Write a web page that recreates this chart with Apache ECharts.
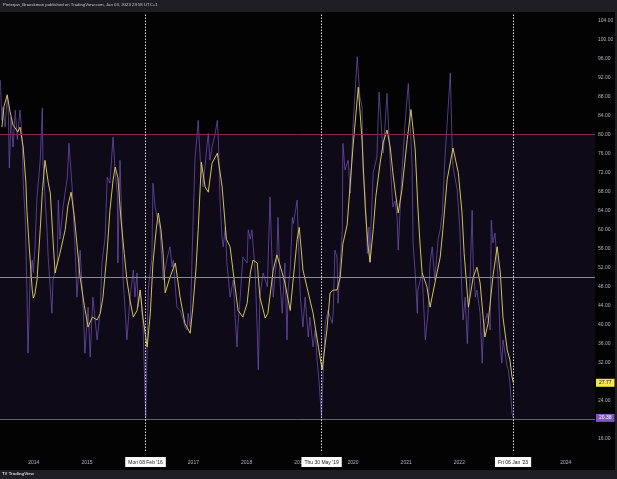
<!DOCTYPE html>
<html><head><meta charset="utf-8">
<script src="https://cdn.jsdelivr.net/npm/echarts@6/dist/echarts.min.js"></script>
<style>html,body{margin:0;padding:0;background:#030303;}#c{width:617px;height:479px;}</style>
</head><body><div id="c"></div>
<script>
// Weekly RSI-like oscillator (purple) and its moving average (yellow), x in decimal years
const purpleYears = [2013.37,2013.40,2013.42,2013.46,2013.50,2013.52,2013.54,2013.57,2013.61,2013.65,2013.69,2013.74,2013.78,2013.80,2013.84,2013.87,2013.89,2013.93,2013.97,2013.99,
2014.02,2014.06,2014.12,2014.16,2014.17,2014.25,2014.27,2014.34,2014.36,2014.44,2014.46,2014.49,2014.55,2014.63,2014.66,2014.72,2014.78,2014.81,2014.87,2014.93,2014.96,
2015.02,2015.06,2015.11,2015.19,2015.25,2015.28,2015.34,2015.38,2015.43,2015.49,2015.53,2015.57,2015.58,2015.62,2015.66,2015.68,2015.72,2015.75,2015.81,2015.87,2015.90,2015.94,2015.96,
2016.00,2016.04,2016.05,2016.104,2016.15,2016.22,2016.24,2016.28,2016.32,2016.37,2016.43,2016.51,2016.56,2016.60,2016.62,2016.69,2016.75,2016.81,2016.84,2016.88,2016.90,2016.94,2016.98,
2017.03,2017.07,2017.09,2017.13,2017.18,2017.26,2017.28,2017.31,2017.35,2017.41,2017.45,2017.47,2017.50,2017.54,2017.56,2017.60,2017.63,2017.69,2017.75,2017.78,2017.82,2017.84,2017.88,2017.93,
2018.01,2018.03,2018.07,2018.10,2018.16,2018.20,2018.22,2018.25,2018.31,2018.39,2018.44,2018.50,2018.54,2018.57,2018.59,2018.63,2018.67,2018.72,2018.76,2018.78,2018.82,2018.86,2018.88,2018.95,
2019.01,2019.06,2019.10,2019.16,2019.19,2019.25,2019.29,2019.33,2019.36,2019.408,2019.44,2019.48,2019.53,2019.61,2019.63,2019.66,2019.70,2019.72,2019.76,2019.80,2019.81,2019.85,2019.91,2019.95,
2020.00,2020.08,2020.10,2020.13,2020.17,2020.19,2020.23,2020.27,2020.30,2020.32,2020.34,2020.38,2020.45,2020.49,2020.55,2020.57,2020.64,2020.70,2020.75,2020.79,2020.83,2020.85,2020.92,2020.98,
2021.04,2021.11,2021.13,2021.17,2021.21,2021.22,2021.30,2021.36,2021.41,2021.45,2021.49,2021.54,2021.60,2021.64,2021.68,2021.73,2021.79,2021.83,2021.86,2021.88,2021.96,
2022.01,2022.05,2022.07,2022.11,2022.15,2022.17,2022.20,2022.24,2022.26,2022.30,2022.33,2022.39,2022.43,2022.45,2022.52,2022.58,2022.60,2022.63,2022.67,2022.73,2022.77,2022.80,2022.82,2022.90,2022.92,2022.95,2022.99,2023.014];
const purpleValues = [91.5,83,85.8,81.6,88,85,73,83.7,77.4,85.2,79,85.2,79.5,70,62,47.3,34,49.4,53.6,51,
55.7,66.9,74.6,85.6,74.6,59.3,54.2,42.4,49.4,53,66.2,58,64.8,71,78.2,69,55,45.8,55.7,43,34,
43.7,33.2,45.8,36.8,43,53,58.4,71,69.8,79.5,72,67.7,53,74.6,59,49.4,42.4,36.8,45.8,51.5,45.8,50.9,43.7,
47.3,41.6,41,20.5,47.3,54.2,69.8,64.8,62.6,60.5,49.4,54.2,56.4,52.1,53.6,43.7,43,41,39.5,38.9,42.4,39.5,56.4,
75,80,83,74.6,69,78.2,80.3,74.6,77.4,80.3,83,78.9,66.2,58,56.4,60.6,53,45.8,49.4,42.4,35.3,40.3,45.8,54.2,
53,60,58,60,51.5,38.9,30.5,45.8,50.9,48,66.9,45.8,50.9,54.2,62.6,48.8,42.4,53,36.8,47.3,51.5,62.6,61.3,66.2,
45.8,39.5,45.8,37.4,41.6,35.3,38.9,31.9,28.4,20.5,30.5,40.3,43,40.3,43,55.7,54.2,44.5,53,60,78.2,72.6,74.6,67.7,
81.6,96.4,93,88,85.8,72,67,55,60.6,53,61.3,72,75.3,89,78.9,76.1,88.7,74,64.8,66,62.6,55.7,72,82.4,
90.8,74,57,50.9,42.4,47.3,50.9,36.8,42.4,53,56.4,49.4,58,60,63.5,75.3,85.8,93,79.5,73.2,68.4,
60,45.8,41,45.8,36,42.4,49.4,64.1,53,45.8,47.3,42.4,31.9,38.9,42.4,38.9,62,57.2,59.3,49.4,35.3,31.9,36.8,31.1,30.5,27.7,21.4,20.38];

const yellowYears = [2013.40,2013.44,2013.50,2013.55,2013.61,2013.70,2013.74,2013.80,2013.85,2013.87,2013.91,2013.97,2013.99,
2014.02,2014.06,2014.12,2014.16,2014.21,2014.27,2014.31,2014.36,2014.40,2014.49,2014.59,2014.64,2014.70,2014.76,2014.81,2014.87,2014.95,
2015.02,2015.10,2015.19,2015.25,2015.30,2015.38,2015.43,2015.49,2015.53,2015.58,2015.64,2015.70,2015.75,2015.81,2015.87,2015.94,
2016.00,2016.05,2016.13,2016.19,2016.24,2016.30,2016.34,2016.39,2016.43,2016.47,2016.56,2016.66,2016.75,2016.84,2016.94,2016.99,
2017.05,2017.09,2017.15,2017.22,2017.28,2017.35,2017.45,2017.48,2017.54,2017.62,2017.69,2017.75,2017.84,2017.93,
2018.01,2018.07,2018.12,2018.20,2018.25,2018.35,2018.40,2018.50,2018.57,2018.67,2018.72,2018.82,2018.87,2018.95,2018.99,
2019.06,2019.16,2019.25,2019.35,2019.42,2019.51,2019.57,2019.63,2019.70,2019.76,2019.81,2019.89,
2020.00,2020.10,2020.17,2020.23,2020.28,2020.32,2020.38,2020.43,2020.51,2020.57,2020.64,2020.70,2020.75,2020.79,2020.85,2020.92,
2021.02,2021.09,2021.17,2021.22,2021.26,2021.30,2021.39,2021.45,2021.54,2021.64,2021.69,2021.77,2021.88,2021.98,
2022.05,2022.09,2022.17,2022.26,2022.33,2022.39,2022.48,2022.54,2022.63,2022.71,2022.77,2022.82,2022.90,2022.95,2022.99,2023.014];
const yellowValues = [81.6,86,88.4,85,82,80.6,81.6,77.4,70,64,57,47.3,45.6,
46.5,49.4,60,68,74.6,70,67.7,58,50.9,55,60,65,67.9,63,57,50,44,
39.5,41.6,41,42.4,45.8,55.7,64,70.5,73.2,71,62,55,49.4,45,41.6,43,
47.3,41.6,35.3,42.4,53,60,63.5,60,55,46.7,50,53,45.8,40.3,38.2,43.7,
52,60,74.2,69,67.9,74,76.1,76.4,69,58,56.4,50.9,43,41.6,
44.5,50.9,53.6,53,45.8,41.4,42.4,51.5,54.7,50.9,48.8,43,48.8,57.9,60.5,
51.5,46.7,42.4,35.3,30.5,38.9,46.7,47.3,47.3,50,57,61,
77.4,90,78.9,64.8,57,53.2,60,67,74,78.4,81,77.4,72,68.4,63.5,68.4,
79,85.3,76.8,64.8,57,50.9,48,43.7,48.8,54.2,60,70.5,77.2,72,
63.5,55,43.7,50,52.1,48.8,37.4,40.3,50,56.4,50.9,41.6,34.7,32.6,29,27.77];

const yearTicks = [2014,2015,2016,2017,2018,2019,2020,2021,2022,2023,2024];
const priceTicks = [16,20,24,28,32,36,40,44,48,52,56,60,64,68,72,76,80,84,88,92,96,100,104];
const levels = { upper: 80, middle: 50, lower: 20 };
const markerDates = [2016.104, 2019.408, 2023.014];
const markerLabels = ["Mon 08 Feb '16", "Thu 30 May '19", "Fri 06 Jan '23"];

const zip = (xs, ys) => xs.map((x, i) => [x, ys[i]]);
const FONT = 'Liberation Sans';
const chart = echarts.init(document.getElementById('c'), null, { renderer: 'canvas' });
const lastP = purpleValues[purpleValues.length - 1];
const lastY = yellowValues[yellowValues.length - 1];
const CLEAR = 'rgba(0,0,0,0)';

chart.setOption({
  animation: false,
  backgroundColor: '#030303',
  grid: { left: 0, right: 22, top: 13, bottom: 28 },
  xAxis: {
    type: 'value', min: 2013.364, max: 2024.55,
    axisLine: { show: false }, axisTick: { show: false }, splitLine: { show: false },
    axisLabel: { customValues: yearTicks, formatter: v => String(Math.round(v)), color: '#b2b5be', fontSize: 5, fontFamily: FONT, margin: 9 }
  },
  yAxis: {
    type: 'value', position: 'right', min: 13.41, max: 105.62,
    axisLine: { show: false }, axisTick: { show: false }, splitLine: { show: false },
    axisLabel: { customValues: priceTicks, formatter: v => v.toFixed(2), color: '#b2b5be', fontSize: 5, fontFamily: FONT, margin: 3 }
  },
  series: [
    {
      type: 'line', data: zip(purpleYears, purpleValues), showSymbol: false, z: 2,
      lineStyle: { color: '#7454b8', width: 1, opacity: 0.7 },
      markArea: { silent: true, itemStyle: { color: '#0e0a18' }, data: [[{ yAxis: levels.lower }, { yAxis: levels.upper }]] },
      markLine: {
        silent: true, symbol: 'none',
        data: [
          { yAxis: levels.upper, lineStyle: { color: '#7a2e47', width: 1, type: 'solid' }, label: { show: false } },
          { yAxis: levels.middle, lineStyle: { color: '#8a8a93', width: 1, type: 'solid' }, label: { show: false } },
          { yAxis: levels.lower, lineStyle: { color: '#63665c', width: 1, type: 'solid' }, label: { show: false } },
          { yAxis: lastP, lineStyle: { color: CLEAR, width: 1 }, label: { show: true, position: 'end', distance: 1, formatter: lastP.toFixed(2), backgroundColor: '#7e57c2', color: '#ffffff', fontSize: 5, fontFamily: FONT, padding: [2, 3, 1, 3] } }
        ].concat(markerDates.map((d, i) => ({
          xAxis: d,
          lineStyle: { color: '#d8d8d8', width: 1, type: [1.5, 1.5] },
          label: { show: true, position: 'start', distance: 6, formatter: markerLabels[i], backgroundColor: '#ffffff', color: '#131722', fontSize: 5, fontFamily: FONT, padding: [3, 3, 2, 3] }
        })))
      }
    },
    {
      type: 'line', data: zip(yellowYears, yellowValues), showSymbol: false, z: 3,
      lineStyle: { color: '#d9cb5a', width: 1, opacity: 0.95 },
      markLine: {
        silent: true, symbol: 'none',
        data: [{ yAxis: lastY, lineStyle: { color: CLEAR, width: 1 }, label: { show: true, position: 'end', distance: 1, formatter: lastY.toFixed(2), backgroundColor: '#f5e84c', color: '#131722', fontSize: 5, fontFamily: FONT, padding: [2, 3, 1, 3] } }]
      }
    }
  ],
  graphic: [
    { type: 'rect', shape: { x: 0, y: 0, width: 617, height: 12 }, style: { fill: '#1e1e23' }, silent: true },
    { type: 'rect', shape: { x: 0, y: 470, width: 617, height: 9 }, style: { fill: '#1e1e23' }, silent: true },
    { type: 'rect', shape: { x: 615, y: 0, width: 2, height: 479 }, style: { fill: '#1e1e23' }, silent: true },
    { type: 'text', left: 3, top: 3, style: { text: 'Pieterjan_Braeckman published on TradingView.com, Jan 03, 2023 23:58 UTC+1', fill: '#c9c9cc', font: '4.3px "Liberation Sans"' }, silent: true },
    { type: 'text', left: 2, top: 472, style: { text: 'TV TradingView', fill: '#d1d4dc', font: 'bold 4.3px "Liberation Sans"' }, silent: true }
  ]
});
</script></body></html>
